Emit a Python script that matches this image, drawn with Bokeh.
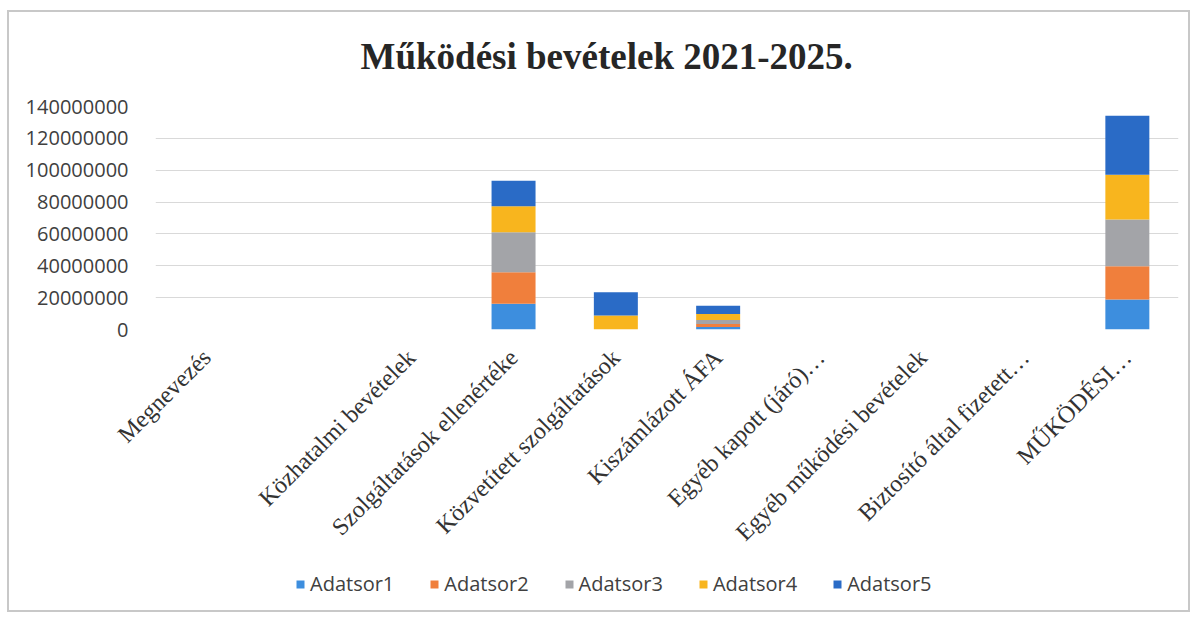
import math
from bokeh.plotting import figure
from bokeh.layouts import column
from bokeh.models import FactorRange, Range1d, FixedTicker, NumeralTickFormatter, Legend, Label
from bokeh.embed import file_html
from bokeh.resources import INLINE

categories = ["Megnevezés", " ", "Közhatalmi bevételek", "Szolgáltatások ellenértéke",
              "Közvetített szolgáltatások", "Kiszámlázott ÁFA", "Egyéb kapott (járó)…",
              "Egyéb működési bevételek", "Biztosító által fizetett…", "MŰKÖDÉSI…"]
series_names = ["Adatsor1", "Adatsor2", "Adatsor3", "Adatsor4", "Adatsor5"]
adatsor1 = [0, 0, 0, 16100000, 0, 1500000, 0, 0, 0, 18800000]
adatsor2 = [0, 0, 0, 19800000, 0, 2000000, 0, 0, 0, 20900000]
adatsor3 = [0, 0, 0, 25100000, 0, 2500000, 0, 0, 0, 29300000]
adatsor4 = [0, 0, 0, 16300000, 8800000, 3700000, 0, 0, 0, 28200000]
adatsor5 = [0, 0, 0, 16100000, 14600000, 5200000, 0, 0, 0, 37000000]
y_ticks = [0, 20000000, 40000000, 60000000, 80000000, 100000000, 120000000, 140000000]
title_text = "Működési bevételek 2021-2025."
colors = ["#3d8ede", "#f07f3c", "#a3a4a8", "#f8b51e", "#2a6bc6"]

data = {"cat": categories}
for name, vals in zip(series_names, [adatsor1, adatsor2, adatsor3, adatsor4, adatsor5]):
    data[name] = vals

# title strip
tfig = figure(width=1179, height=70, output_backend="svg", toolbar_location=None,
              x_range=Range1d(0, 1), y_range=Range1d(0, 1),
              x_axis_type=None, y_axis_type=None,
              min_border_left=0, min_border_right=0, min_border_top=0, min_border_bottom=0)
tfig.grid.grid_line_color = None
tfig.outline_line_color = None
tfig.add_layout(Label(x=0.441, y=0.37, text=title_text, text_align="center",
                      text_baseline="alphabetic", text_font="Liberation Serif",
                      text_font_size="37px", text_font_style="bold", text_color="#262626"))

# main chart
p = figure(x_range=FactorRange(*categories, range_padding=0), y_range=Range1d(0, 140000000),
           width=1179, height=480, output_backend="svg", toolbar_location=None,
           min_border_left=146, min_border_right=10, min_border_top=24, min_border_bottom=233)

p.vbar_stack(series_names, x="cat", width=0.43, source=data, color=colors, line_color=None)

p.yaxis.ticker = FixedTicker(ticks=y_ticks)
p.yaxis.formatter = NumeralTickFormatter(format="0")
p.yaxis.axis_line_color = None
p.yaxis.major_tick_line_color = None
p.yaxis.minor_tick_line_color = None
p.yaxis.major_label_standoff = 21
p.yaxis.major_label_text_font = "Open Sans"
p.yaxis.major_label_text_font_size = "20px"
p.yaxis.major_label_text_color = "#404040"

p.xaxis.axis_line_color = None
p.xaxis.major_tick_line_color = None
p.xaxis.minor_tick_line_color = None
p.xaxis.major_label_orientation = math.pi / 4
p.xaxis.major_label_standoff = 18
p.xaxis.major_label_text_font = "Liberation Serif"
p.xaxis.major_label_text_font_size = "24px"
p.xaxis.major_label_text_color = "#333333"

p.xgrid.grid_line_color = None
p.ygrid.grid_line_color = "#d9d9d9"
p.ygrid.grid_line_width = 1
p.outline_line_color = None

# legend strip below the chart (same series, hidden; only the legend shows)
leg = figure(width=1179, height=48, output_backend="svg", toolbar_location=None,
             x_range=FactorRange(*categories, range_padding=0), y_range=Range1d(0, 140000000),
             x_axis_type=None, y_axis_type=None,
             min_border_left=0, min_border_right=0, min_border_top=0, min_border_bottom=0)
leg.grid.grid_line_color = None
leg.outline_line_color = None
leg_renderers = leg.vbar_stack(series_names, x="cat", width=0.43, source=data, color=colors,
                               line_color=None)
for r in leg_renderers:
    r.visible = False
legend = Legend(items=[(n, [r]) for n, r in zip(series_names, leg_renderers)],
                orientation="horizontal", location=(140, 13), click_policy="none",
                glyph_width=10, glyph_height=10, label_standoff=5, spacing=35,
                padding=0, margin=0, border_line_color=None, background_fill_alpha=0,
                inactive_fill_alpha=0,
                label_text_font="Open Sans", label_text_font_size="20px",
                label_text_color="#404040")
leg.add_layout(legend, "center")

layout = column(tfig, p, leg, spacing=0)
layout.styles = {"border": "2px solid #c8c8c8", "margin-left": "7px", "margin-top": "10px"}

open("out.html", "w").write(file_html(layout, INLINE))
